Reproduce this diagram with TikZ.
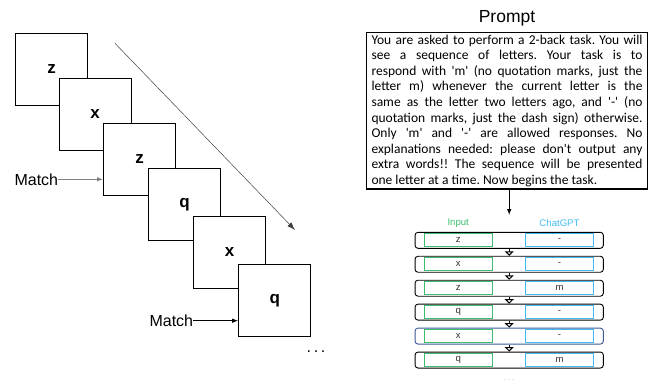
\documentclass[tikz,border=0pt]{standalone}
\usepackage{fontspec}
\setmainfont{Liberation Sans}
\newfontfamily\promptfont{Carlito}
\usetikzlibrary{arrows.meta}

\definecolor{inputgreen}{HTML}{3DBE6E}
\definecolor{gptblue}{HTML}{3EBBF0}
\definecolor{rowblue}{HTML}{3A5A98}
\definecolor{celltext}{HTML}{333333}
\newcommand{\apos}{\textquotesingle}

\begin{document}
\begin{tikzpicture}[x=1pt, y=-1pt,
    letterbox/.style={draw, fill=white, line width=1pt, minimum size=72pt, inner sep=0pt,
      font=\fontsize{17}{17}\selectfont\bfseries},
    matchlabel/.style={inner sep=0pt, font=\fontsize{16}{16}\selectfont},
    matcharrow/.style={-{Latex[length=6pt,width=4.5pt]}, line width=0.8pt},
    flowarrow/.style={-{Latex[length=8pt,width=5.5pt]}, line width=0.5pt, draw=black!75},
    promptbox/.style={draw, line width=1.2pt, text width=271pt, align=justify,
      inner xsep=4.8pt, inner ysep=0.5pt, minimum height=156.3pt,
      font=\promptfont\fontsize{13.5}{15.6}\selectfont\frenchspacing},
    header/.style={inner sep=0pt, font=\fontsize{9.6}{9.6}\selectfont},
    rowbox/.style={draw, rounded corners=3pt, line width=0.9pt, minimum width=188.3pt,
      minimum height=16pt, inner sep=0pt},
    cell/.style={line width=1pt, minimum width=68pt, minimum height=13pt, inner sep=0pt,
      text=celltext, font=\fontsize{9.6}{9.6}\selectfont},
    incell/.style={cell, draw=inputgreen},
    outcell/.style={cell, draw=gptblue},
    steparrow/.style={-{Triangle[open,length=4.5pt,width=9pt]}, line width=1pt,
      shorten <=0.5pt}]
  \useasboundingbox (0,0) rectangle (648,381);

  % Letter stream (left)
  \foreach \i/\px/\py/\l in {1/51.5/69.2/z, 2/95.2/114.3/x, 3/139.5/159.5/z,
      4/184.5/204.5/q, 5/229.7/252.3/x, 6/274.7/300.2/q} {
    \node[letterbox] (s\i) at (\px,\py) {\l};
  }

  % Time direction
  \coordinate (flowstart) at (115,43.3);
  \coordinate (flowend) at (295,230);
  \draw[flowarrow] (flowstart) -- (flowend);

  % Match markers
  \node[matchlabel, anchor=east] (m1) at (58.3,179.3) {Match};
  \draw[matcharrow, draw=gray] (m1.east) -- (m1.east -| s3.west);
  \node[matchlabel, anchor=east] (m2) at (193.3,320.7) {Match};
  \draw[matcharrow] (m2.east) -- (m2.east -| s6.west);

  \node[font=\fontsize{16}{16}\selectfont] (moreletters) at (316,352) {.\,.\,.};

  % Prompt (right)
  \node[font=\fontsize{17.5}{17.5}\selectfont] (prompttitle) at (507,18.3) {Prompt};
  \node[promptbox] (prompt) at (507,110.8) {You are asked to perform a 2-back task. You will\linebreak
    see a sequence of letters. Your task is to\linebreak
    respond with \apos m\apos{} (no quotation marks, just the\linebreak
    letter m) whenever the current letter is the\linebreak
    same as the letter two letters ago, and \apos-\apos{} (no\linebreak
    quotation marks, just the dash sign) otherwise.\linebreak
    Only \apos m\apos{} and \apos-\apos{} are allowed responses. No\linebreak
    explanations needed: please don\apos t output any\linebreak
    extra words!! The sequence will be presented\linebreak
    one letter at a time. Now begins the task.};

  \node[header, text=inputgreen] (inhead) at (458.2,223.3) {Input};
  \node[header, text=gptblue] (gpthead) at (559.5,223.3) {ChatGPT};

  % Responses
  \foreach \i/\a/\b/\c in {1/z/-/black, 2/x/-/black, 3/z/m/black, 4/q/-/black,
      5/x/-/rowblue, 6/q/m/black} {
    \pgfmathsetmacro\ry{240.3+23.95*(\i-1)}
    \node[rowbox, draw=\c] (row\i) at (509.2,\ry) {};
    \node[incell] (in\i) at (458.2,\ry) {\a};
    \node[outcell] (out\i) at (559.5,\ry) {\b};
  }
  \foreach \i [evaluate=\i as \j using int(\i+1)] in {1,...,5}
    \draw[steparrow] (row\i.south) -- (row\j.north);

  \coordinate (promptend) at (509.2,215);
  \draw[matcharrow] (prompt.south -| promptend) -- (promptend);

  \node[text=gray!45, font=\fontsize{9}{9}\selectfont] (morerows) at (509.2,380) {.\,.\,.};
\end{tikzpicture}
\end{document}
